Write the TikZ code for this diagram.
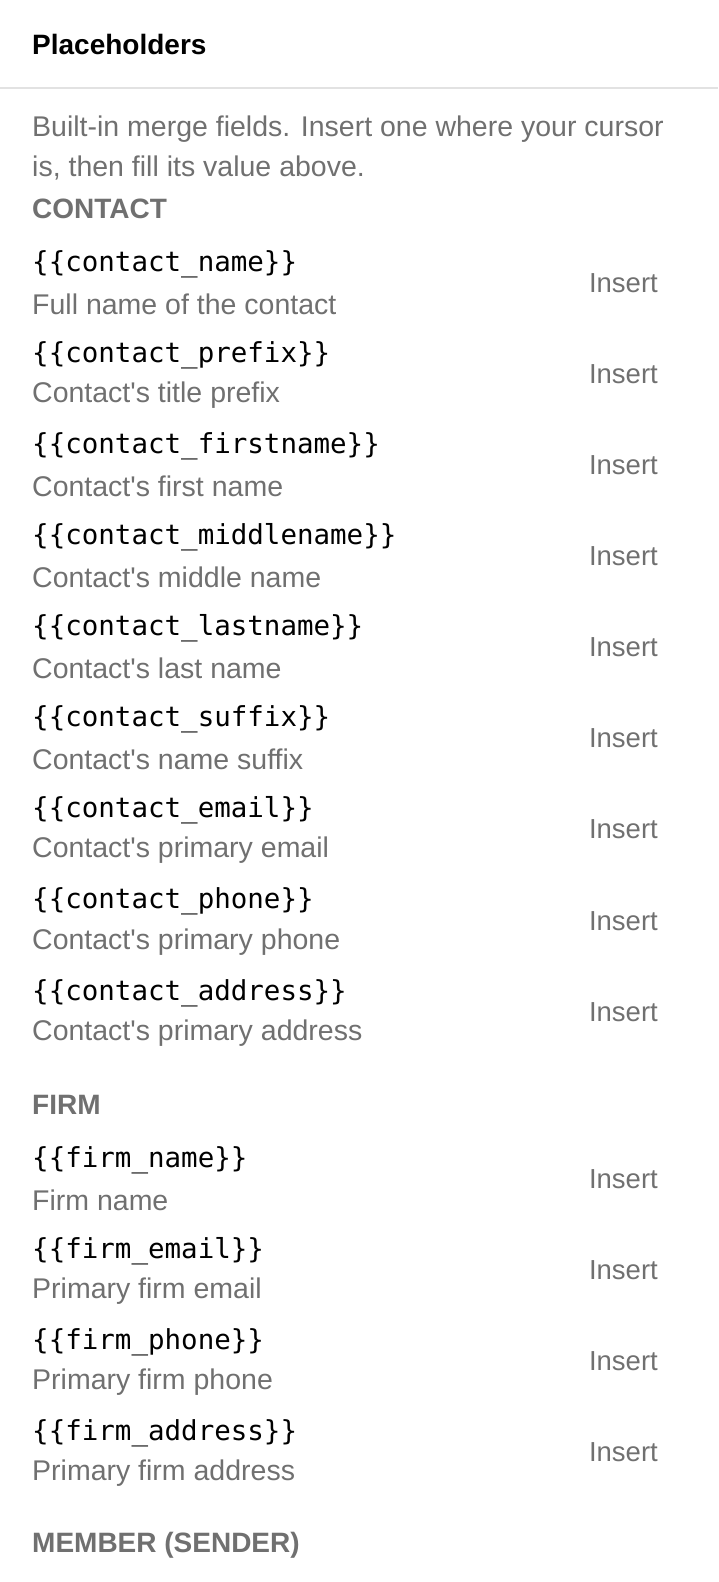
\documentclass[tikz,border=0pt]{standalone}
\usepackage{fontspec}
\setmainfont{Liberation Sans}
\setmonofont{DejaVu Sans Mono}
\usetikzlibrary{positioning}
\definecolor{PanelGris}{RGB}{112, 112, 112}
\definecolor{PanelTrait}{RGB}{226, 226, 226}
\newcommand{\ap}{\textquotesingle}
\tikzset{
    myTitle/.style={anchor=west, inner sep=0pt, font=\fontsize{28}{32}\selectfont\bfseries},
    mySection/.style={anchor=west, inner sep=0pt, color=PanelGris, font=\fontsize{28}{32}\selectfont\bfseries},
    myText/.style={anchor=west, inner sep=0pt, color=PanelGris, font=\fontsize{28.5}{32}\selectfont},
    myCode/.style={anchor=west, inner sep=0pt, font=\fontsize{27.5}{32}\selectfont\ttfamily},
    myInsert/.style={anchor=east, inner sep=0pt, color=PanelGris, font=\fontsize{27.5}{32}\selectfont}
}
\begin{document}
\begin{tikzpicture}[x=1pt,y=-1pt]
	\useasboundingbox (0,0) rectangle (718,1582);
	%
	\node[myTitle] (title) at (32,44) {Placeholders};
	\draw[PanelTrait, line width=1.5pt] (0,88) -- (718,88);
	\node[myText] (intro1) at (32,129) {Built-in merge fields. Insert one where your cursor};
	\node[myText] (intro2) at (32,168) {is, then fill its value above.};
	
	\node[mySection] (contact) at (32,209) {CONTACT};
	\foreach \code/\desc [count=\i] in {contact\_name/Full name of the contact,
	    contact\_prefix/Contact\ap s title prefix,
	    contact\_firstname/Contact\ap s first name,
	    contact\_middlename/Contact\ap s middle name,
	    contact\_lastname/Contact\ap s last name,
	    contact\_suffix/Contact\ap s name suffix,
	    contact\_email/Contact\ap s primary email,
	    contact\_phone/Contact\ap s primary phone,
	    contact\_address/Contact\ap s primary address}{
	  \node[myCode] (ccode\i) at (32,{264+91.1*(\i-1)}) {\{\{\code\}\}};
	  \node[myText] (cdesc\i) at (32,{304+91.1*(\i-1)}) {\desc};
	  \node[myInsert] (cins\i) at (658,{283+91.1*(\i-1)}) {Insert};
	}
	
	\node[mySection] (firm) at (32,1105) {FIRM};
	\foreach \code/\desc [count=\i] in {firm\_name/Firm name,
	    firm\_email/Primary firm email,
	    firm\_phone/Primary firm phone,
	    firm\_address/Primary firm address}{
	  \node[myCode] (fcode\i) at (32,{1160+91.2*(\i-1)}) {\{\{\code\}\}};
	  \node[myText] (fdesc\i) at (32,{1200+91.2*(\i-1)}) {\desc};
	  \node[myInsert] (fins\i) at (658,{1179+91.2*(\i-1)}) {Insert};
	}
	
	\node[mySection] (member) at (32,1545) {MEMBER (SENDER)};

\end{tikzpicture}
\end{document}
